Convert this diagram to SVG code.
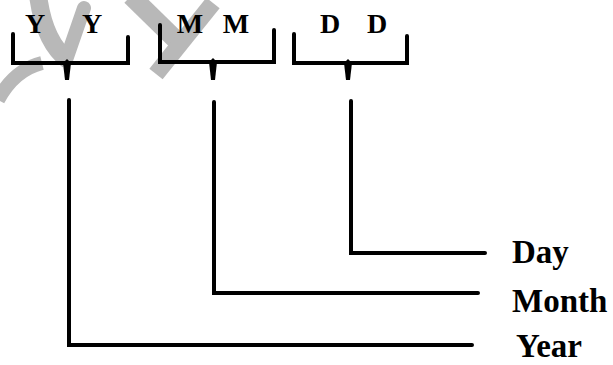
<svg xmlns="http://www.w3.org/2000/svg" width="613" height="365" viewBox="0 0 613 365">
  <style>
    .wm { fill: none; stroke: #b8b8b8; }
    .br { fill: none; stroke: #000; stroke-width: 4; stroke-linejoin: miter; stroke-linecap: round; }
    .tick { fill: #000; }
    .ln { fill: none; stroke: #000; stroke-width: 4; stroke-linejoin: miter; stroke-linecap: round; }
    .lt { font-family: "Liberation Serif", "Times New Roman", serif; font-weight: bold; fill: #000; }
    .top { font-size: 28px; text-anchor: middle; }
    .lab { font-size: 33px; }
  </style>
  <rect width="613" height="365" fill="#fff"/>
  <g id="watermark">
    <path class="wm" d="M38,-5 Q44,42 68,60" stroke-width="18"/>
    <path class="wm" d="M66,60 L84,8" stroke-width="14" stroke-linecap="round"/>
    <path class="wm" d="M-2,100 Q14,70 42,63" stroke-width="14"/>
    <path class="wm" d="M131,-4 L176,40" stroke-width="19"/>
    <path class="wm" d="M213,3 L156,74" stroke-width="17"/>
  </g>
  <g id="year-field">
    <text class="lt top" x="35" y="33">Y</text>
    <text class="lt top" x="92" y="33">Y</text>
    <path class="br" d="M13,34 V63 H128 V37"/>
    <polygon class="tick" points="63,63 67,59 71,63 69,80 65,80"/>
  </g>
  <g id="month-field">
    <text class="lt top" x="190" y="33">M</text>
    <text class="lt top" x="236" y="33">M</text>
    <path class="br" d="M160,25 V62 H274 V30"/>
    <polygon class="tick" points="209,62 213,58 217,62 215,80 211,80"/>
  </g>
  <g id="day-field">
    <text class="lt top" x="330" y="33">D</text>
    <text class="lt top" x="377" y="33">D</text>
    <path class="br" d="M294,34 V63 H407 V36"/>
    <polygon class="tick" points="344,63 348,59 352,63 350,80 346,80"/>
  </g>
  <g id="connectors">
    <path class="ln" d="M69,100 V345 H472"/>
    <path class="ln" d="M214,102 V293 H478"/>
    <path class="ln" d="M351,101 V253 H485"/>
  </g>
  <g id="label-day">
    <text class="lt lab" x="512" y="263">Day</text>
  </g>
  <g id="label-month">
    <text class="lt lab" x="512" y="312">Month</text>
  </g>
  <g id="label-year">
    <text class="lt lab" x="516" y="357">Year</text>
  </g>
</svg>
